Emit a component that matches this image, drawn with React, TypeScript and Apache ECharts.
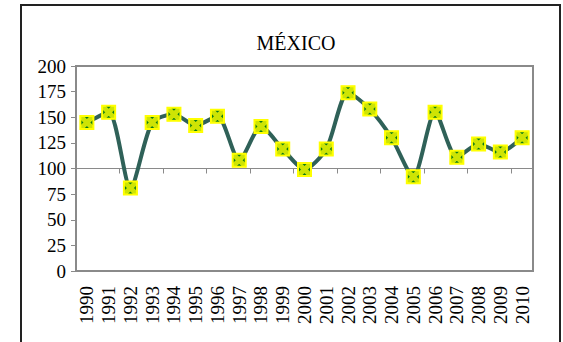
import React, { useEffect, useRef } from "react";
import * as echarts from "echarts";

const years = ["1990","1991","1992","1993","1994","1995","1996","1997","1998","1999","2000","2001","2002","2003","2004","2005","2006","2007","2008","2009","2010"];
const values = [145, 155, 81, 145, 153, 142, 151, 108, 141, 119, 99, 119, 174, 158, 130, 92, 155, 111, 124, 116, 130];
const yTicks = [0, 25, 50, 75, 100, 125, 150, 175, 200];

const FONT = "Times New Roman, Liberation Serif, serif";
const X_PATH = "path://M0,0L3.5,0L14,10.5L14,14L10.5,14L0,3.5Z M10.5,0L14,0L14,3.5L3.5,14L0,14L0,10.5Z";

export default function App() {
  const ref = useRef<HTMLDivElement>(null);
  useEffect(() => {
    if (!ref.current) return;
    const chart = echarts.init(ref.current, undefined, { renderer: "svg" });
    chart.setOption({
      animation: false,
      backgroundColor: "#ffffff",
      textStyle: { fontFamily: FONT },
      title: {
        text: "MÉXICO",
        left: 291,
        top: 28,
        textAlign: "center",
        textStyle: { fontFamily: FONT, fontSize: 20, fontWeight: "normal", color: "#000" },
      },
      graphic: [
        {
          type: "rect",
          shape: { x: 21, y: 5, width: 539, height: 360 },
          style: { fill: "none", stroke: "#222", lineWidth: 2 },
          silent: true,
        },
      ],
      grid: {
        left: 76,
        top: 66,
        width: 457,
        height: 205,
        show: true,
        borderColor: "#8a8a8a",
        borderWidth: 2,
        backgroundColor: "#fff",
      },
      xAxis: [
        {
          type: "category",
          data: years,
          boundaryGap: true,
          axisLine: { show: false },
          axisTick: { show: false },
          axisLabel: {
            rotate: 90,
            margin: 15,
            interval: 0,
            fontFamily: FONT,
            fontSize: 19,
            color: "#000",
          },
        },
        {
          type: "category",
          data: years,
          boundaryGap: true,
          position: "bottom",
          offset: -102.5,
          axisLine: { show: true, lineStyle: { color: "#8a8a8a", width: 1 } },
          axisTick: { show: true, length: 5, inside: false, lineStyle: { color: "#8a8a8a" } },
          axisLabel: { show: false },
        },
      ],
      yAxis: {
        type: "value",
        min: yTicks[0],
        max: yTicks[yTicks.length - 1],
        interval: 25,
        axisLine: { show: true, lineStyle: { color: "#8a8a8a", width: 2 } },
        axisTick: { show: true, length: 5, lineStyle: { color: "#8a8a8a" } },
        splitLine: { show: false },
        axisLabel: { margin: 10, fontFamily: FONT, fontSize: 19, color: "#000" },
      },
      series: [
        {
          type: "line",
          data: values,
          smooth: 0.25,
          lineStyle: { color: "#2f6158", width: 4 },
          symbol: "rect",
          symbolSize: 13,
          showAllSymbol: true,
          itemStyle: { color: "#0b7a16", borderColor: "#ffff00", borderWidth: 2 },
          z: 3,
        },
        {
          type: "scatter",
          data: values,
          symbol: X_PATH,
          symbolSize: 14,
          itemStyle: { color: "#ffff00" },
          z: 4,
          silent: true,
        },
      ],
    });
    return () => chart.dispose();
  }, []);
  return (
    <div
      ref={ref}
      style={{ position: "absolute", left: 0, top: 0, width: 563, height: 342 }}
    />
  );
}
